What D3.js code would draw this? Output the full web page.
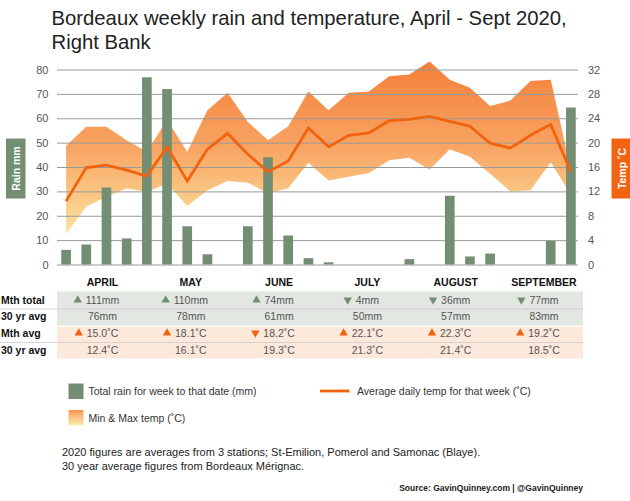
<!DOCTYPE html>
<html>
<head>
<meta charset="utf-8">
<script src="https://cdn.jsdelivr.net/npm/d3@7"></script>
<style>
body { margin: 0; background: #fff; }
text { font-family: "Liberation Sans", Arial, Helvetica, sans-serif; }
</style>
</head>
<body>
<script>
// weekly data, April - Sept 2020
var weeks = ["w1", "w2", "w3", "w4", "w5", "w6", "w7", "w8", "w9", "w10", "w11", "w12", "w13",
             "w14", "w15", "w16", "w17", "w18", "w19", "w20", "w21", "w22", "w23", "w24", "w25", "w26"];
var rain    = [6, 8.2, 31.6, 10.7, 76.8, 72, 15.7, 4.2, 0, 15.7, 44, 11.9, 2.6,
               0.9, 0, 0, 0, 2.2, 0, 28.2, 3.3, 4.5, 0, 0, 9.7, 64.4];
var tempMin = [5.0, 9.5, 11.1, 12.5, 11.9, 13.3, 9.6, 12.2, 13.7, 13.4, 11.7, 12.5, 16.7,
               13.8, 14.4, 15.0, 17.1, 17.5, 15.6, 18.9, 17.7, 14.9, 12.0, 12.2, 16.8, 11.5];
var tempAvg = [10.4, 15.9, 16.3, 15.5, 14.5, 19.3, 13.7, 18.9, 21.5, 18.1, 15.2, 17.0, 22.4,
               19.3, 21.2, 21.6, 23.6, 23.8, 24.3, 23.5, 22.7, 19.9, 19.1, 21.2, 23.0, 15.2];
var tempMax = [19.5, 22.6, 22.6, 20.4, 18.5, 23.7, 18.5, 25.3, 28.2, 23.4, 20.4, 22.7, 28.4,
               25.3, 28.2, 28.4, 30.9, 31.2, 33.3, 30.3, 29.0, 26.0, 26.9, 30.1, 30.3, 15.5];

// monthly table
var months    = ["APRIL", "MAY", "JUNE", "JULY", "AUGUST", "SEPTEMBER"];
var rainMonth = [111, 110, 74, 4, 36, 77];
var rain30yr  = [76, 78, 61, 50, 57, 83];
var tempMonth = [15.0, 18.1, 18.2, 22.1, 22.3, 19.2];
var temp30yr  = [12.4, 16.1, 19.3, 21.3, 21.4, 18.5];

var rainTicks = [0, 10, 20, 30, 40, 50, 60, 70, 80];
var tempTicks = [0, 4, 8, 12, 16, 20, 24, 28, 32];

var green = "#748e74";
var orange = "#f2630f";

var svg = d3.select("body")
            .append("svg")
            .attr("width", 630)
            .attr("height", 501);

var x = d3.scaleBand().domain(weeks).range([56, 581]).paddingInner(0.52).paddingOuter(0.26);
var yRain = d3.scaleLinear().domain([0, 80]).range([264.5, 69.5]);
var yTemp = d3.scaleLinear().domain([0, 32]).range([264.5, 69.5]);
var col = d3.scalePoint().domain(months).range([102.5, 544]);
var bw = x.bandwidth();
function cx(i) { return x(weeks[i]) + bw / 2; }

// gradients
var defs = svg.append("defs");
var grad = defs.append("linearGradient").attr("id", "band")
               .attr("gradientUnits", "userSpaceOnUse")
               .attr("x1", 0).attr("x2", 0).attr("y1", 65).attr("y2", 245);
grad.append("stop").attr("offset", 0).attr("stop-color", "#f4803a");
grad.append("stop").attr("offset", 0.45).attr("stop-color", "#f8a462");
grad.append("stop").attr("offset", 1).attr("stop-color", "#fdeaa6");
var grad2 = defs.append("linearGradient").attr("id", "legband")
                .attr("x1", 0).attr("x2", 0).attr("y1", 0).attr("y2", 1);
grad2.append("stop").attr("offset", 0).attr("stop-color", "#fa9455");
grad2.append("stop").attr("offset", 1).attr("stop-color", "#fdf0b2");

// title
svg.append("text").attr("x", 51.5).attr("y", 25).style("font-size", "20.3px").style("fill", "#222")
   .text("Bordeaux weekly rain and temperature, April - Sept 2020,");
svg.append("text").attr("x", 51.5).attr("y", 48.5).style("font-size", "20.3px").style("fill", "#222")
   .text("Right Bank");

// min & max band
var area = d3.area()
             .x(function(d, i) { return cx(i); })
             .y0(function(d, i) { return yTemp(tempMin[i]); })
             .y1(function(d, i) { return yTemp(tempMax[i]); });
svg.append("path").datum(weeks).attr("d", area).style("fill", "url(#band)");

// grid + left axis
var gLeft = svg.append("g").attr("transform", "translate(57,0)")
               .call(d3.axisLeft(yRain).tickValues(rainTicks).tickSize(-521).tickPadding(8.5));
gLeft.select(".domain").remove();
gLeft.selectAll("line").style("stroke", "#9a9a9a");
gLeft.selectAll("text").style("font-size", "11px").style("fill", "#555")
     .style("font-family", "'Liberation Sans', Arial, sans-serif");

var gRight = svg.append("g").attr("transform", "translate(578,0)")
                .call(d3.axisRight(yTemp).tickValues(tempTicks).tickSize(0).tickPadding(10));
gRight.select(".domain").remove();
gRight.selectAll("text").style("font-size", "11px").style("fill", "#555")
      .style("font-family", "'Liberation Sans', Arial, sans-serif");

// rain bars
svg.selectAll("rect.bar")
   .data(rain)
   .enter()
   .append("rect")
   .attr("class", "bar")
   .attr("x", function(d, i) { return x(weeks[i]); })
   .attr("y", function(d) { return yRain(d); })
   .attr("width", bw)
   .attr("height", function(d) { return yRain(0) - yRain(d); })
   .style("fill", green);

// average temp line
var line = d3.line()
             .x(function(d, i) { return cx(i); })
             .y(function(d) { return yTemp(d); });
svg.append("path").datum(tempAvg).attr("d", line)
   .style("fill", "none").style("stroke", orange).style("stroke-width", 2.8)
   .style("stroke-linejoin", "miter");

// axis name boxes
svg.append("rect").attr("x", 6).attr("y", 138.5).attr("width", 19.5).attr("height", 60).style("fill", green);
svg.append("text").attr("transform", "translate(19.5,168.5) rotate(-90)").attr("text-anchor", "middle")
   .style("font-size", "10.5px").style("font-weight", "bold").style("fill", "#fff").text("Rain mm");
svg.append("rect").attr("x", 611.5).attr("y", 138.5).attr("width", 20).attr("height", 60).style("fill", orange);
svg.append("text").attr("transform", "translate(625.5,168.5) rotate(-90)").attr("text-anchor", "middle")
   .style("font-size", "10.5px").style("font-weight", "bold").style("fill", "#fff").text("Temp ˚C");

// month headers
svg.selectAll("text.month")
   .data(months)
   .enter()
   .append("text")
   .attr("class", "month")
   .attr("x", function(d) { return col(d); })
   .attr("y", 286)
   .attr("text-anchor", "middle")
   .style("font-size", "10.5px").style("font-weight", "bold").style("fill", "#111")
   .text(function(d) { return d; });

// table rows
var rows = [
  { label: "Mth total", top: 291.5, h: 17.5, base: 304, bg: "#e2e7e2", vals: rainMonth, ref: rain30yr, unit: "mm", tri: green },
  { label: "30 yr avg", top: 309, h: 16.5, base: 319.5, bg: "#e2e7e2", vals: rain30yr, unit: "mm" },
  { label: "Mth avg", top: 326.5, h: 16, base: 337, bg: "#fde8dc", vals: tempMonth, ref: temp30yr, unit: "˚C", tri: orange },
  { label: "30 yr avg", top: 342.5, h: 16, base: 354, bg: "#fde8dc", vals: temp30yr, unit: "˚C" }
];

rows.forEach(function(r) {
  svg.append("rect").attr("x", 57).attr("y", r.top).attr("width", 526).attr("height", r.h).style("fill", r.bg);
  svg.append("text").attr("x", 1).attr("y", r.base)
     .style("font-size", "10.5px").style("font-weight", "bold").style("fill", "#111").text(r.label);
});
[309, 342.5].forEach(function(yy) {
  svg.append("line").attr("x1", 0).attr("x2", 583).attr("y1", yy).attr("y2", yy)
     .style("stroke", "#c4c4c4").style("stroke-width", 0.7);
});

rows.forEach(function(r) {
  r.vals.forEach(function(v, i) {
    var t = svg.append("text")
               .attr("x", col(months[i]))
               .attr("y", r.base)
               .attr("text-anchor", "middle")
               .style("font-size", "10.5px").style("fill", "#555")
               .text((r.unit == "mm" ? v : v.toFixed(1)) + r.unit);
    if (r.tri) {
      var left = col(months[i]) - t.node().getComputedTextLength() / 2;
      var up = v > r.ref[i];
      svg.append("path")
         .attr("d", d3.symbol(d3.symbolTriangle, 30)())
         .attr("transform", "translate(" + (left - 8) + "," + (r.base - 4) + ")" + (up ? "" : " rotate(180)"))
         .style("fill", r.tri);
    }
  });
});

// legend
svg.append("rect").attr("x", 68.5).attr("y", 383.5).attr("width", 15).attr("height", 15.5).style("fill", green);
svg.append("text").attr("x", 88.5).attr("y", 395).style("font-size", "10.5px").style("fill", "#333")
   .text("Total rain for week to that date (mm)");
svg.append("line").attr("x1", 320).attr("x2", 349.5).attr("y1", 391).attr("y2", 391)
   .style("stroke", orange).style("stroke-width", 2.8);
svg.append("text").attr("x", 357).attr("y", 395).style("font-size", "10.5px").style("fill", "#333")
   .text("Average daily temp for that week (˚C)");
svg.append("rect").attr("x", 68.5).attr("y", 410).attr("width", 15).attr("height", 15.5).style("fill", "url(#legband)");
svg.append("text").attr("x", 88.5).attr("y", 421.5).style("font-size", "10.5px").style("fill", "#333")
   .text("Min & Max temp (˚C)");

// notes
svg.append("text").attr("x", 62).attr("y", 456).style("font-size", "11px").style("fill", "#222")
   .text("2020 figures are averages from 3 stations; St-Emilion, Pomerol and Samonac (Blaye).");
svg.append("text").attr("x", 62).attr("y", 469.5).style("font-size", "11px").style("fill", "#222")
   .text("30 year average figures from Bordeaux Mérignac.");
svg.append("text").attr("x", 583).attr("y", 491).attr("text-anchor", "end")
   .style("font-size", "8.5px").style("font-weight", "bold").style("fill", "#222")
   .text("Source: GavinQuinney.com | @GavinQuinney");
</script>
</body>
</html>
